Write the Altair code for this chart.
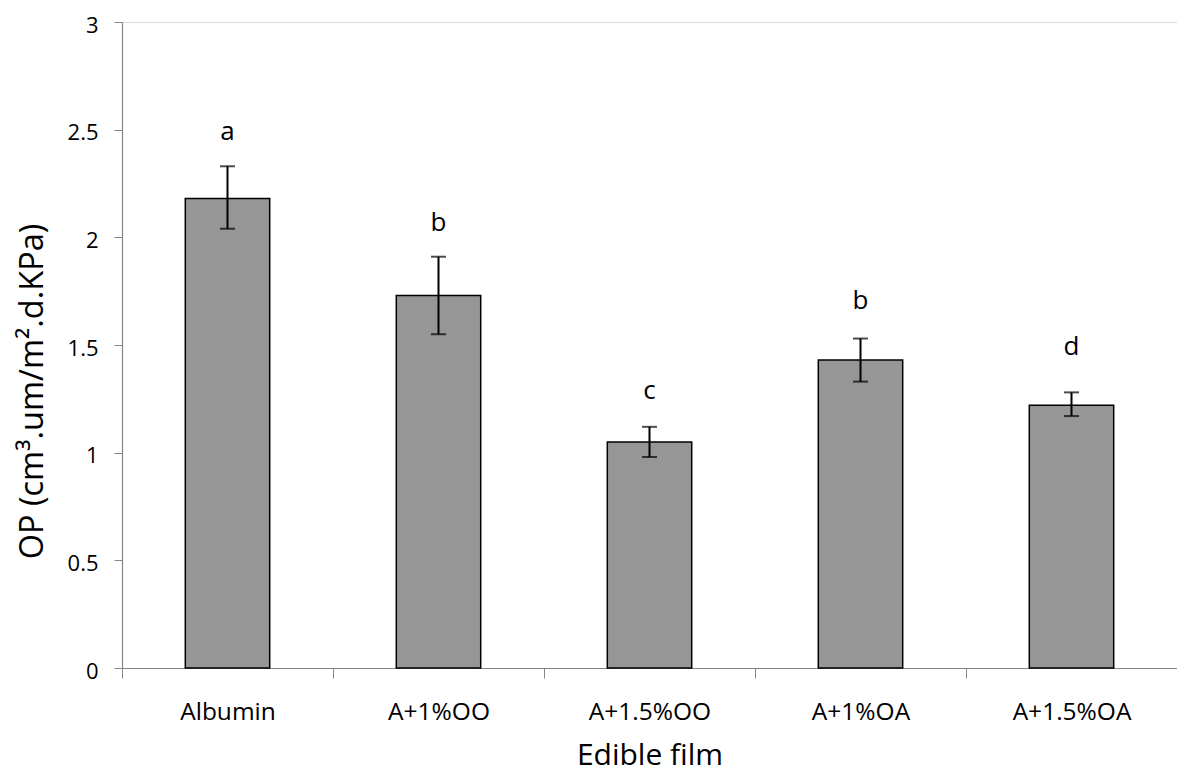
import altair as alt
import pandas as pd

films = ["Albumin", "A+1%OO", "A+1.5%OO", "A+1%OA", "A+1.5%OA"]
op = [2.18, 1.73, 1.05, 1.43, 1.22]
err_lo = [2.04, 1.55, 0.98, 1.33, 1.17]
err_hi = [2.33, 1.91, 1.12, 1.53, 1.28]
letters = ["a", "b", "c", "b", "d"]
letter_y = [2.45, 2.03, 1.25, 1.665, 1.455]

df = pd.DataFrame({
    "film": films, "op": op, "lo": err_lo, "hi": err_hi,
    "letter": letters, "ly": letter_y,
})

FONT = "Open Sans"

x = alt.X("film:N", sort=films,
          scale=alt.Scale(paddingInner=0, paddingOuter=0),
          axis=alt.Axis(title="Edible film", labelAngle=0, tickBand="extent",
                        labelFontSize=24.5, labelFont=FONT, labelColor="black",
                        labelPadding=22, tickSize=10, tickColor="#868686",
                        domainColor="#868686", domainWidth=1.2,
                        titleFontSize=30, titleFont=FONT, titleFontWeight="normal",
                        titleColor="black", titleY=96, titleBaseline="alphabetic"))

y_scale = alt.Scale(domain=[0, 3], nice=False)
y = alt.Y("op:Q", scale=y_scale,
          axis=alt.Axis(title="OP (cm³.um/m².d.KPa)", values=[0, 0.5, 1, 1.5, 2, 2.5, 3],
                        labelExpr="datum.value", grid=False,
                        labelFontSize=22, labelFont=FONT, labelColor="black",
                        labelPadding=16, labelBaseline="alphabetic", labelOffset=10,
                        tickSize=8, tickColor="#868686",
                        domainColor="#868686", domainWidth=1.2,
                        titleFontSize=32.5, titleFont=FONT, titleFontWeight="normal",
                        titleColor="black", titleAngle=270, titleAlign="center",
                        titleBaseline="middle", titleX=-90, titleY=369))

base = alt.Chart(df)

bars = base.mark_bar(width=alt.RelativeBandSize(0.4), color="#969696",
                     stroke="black", strokeWidth=1.5).encode(x=x, y=y)

rules = base.mark_rule(color="black", strokeWidth=2).encode(
    x=alt.X("film:N", sort=films), y=alt.Y("lo:Q", scale=y_scale), y2="hi:Q")

caps_lo = base.mark_tick(color="black", size=15, thickness=2, orient="horizontal").encode(
    x=alt.X("film:N", sort=films), y=alt.Y("lo:Q", scale=y_scale))
caps_hi = base.mark_tick(color="black", size=15, thickness=2, orient="horizontal").encode(
    x=alt.X("film:N", sort=films), y=alt.Y("hi:Q", scale=y_scale))

labels = base.mark_text(font=FONT, fontSize=26, color="black",
                        baseline="alphabetic", align="center").encode(
    x=alt.X("film:N", sort=films), y=alt.Y("ly:Q", scale=y_scale), text="letter:N")

chart = alt.layer(bars, rules, caps_lo, caps_hi, labels).properties(
    width=1055, height=646,
    autosize=alt.AutoSizeParams(type="none"),
    padding={"left": 114, "top": 14, "right": 0, "bottom": 104},
).configure_view(stroke=None).configure(background="white")

chart.save("out.html", embed_options={"renderer": "svg", "actions": False})
